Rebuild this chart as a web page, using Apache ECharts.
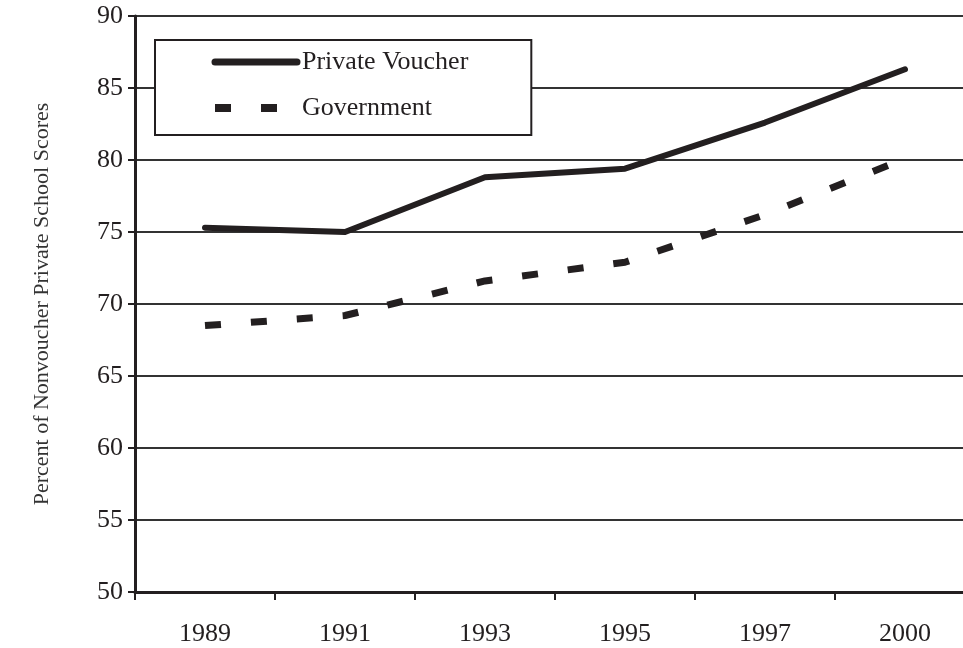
<!DOCTYPE html>
<html>
<head>
<meta charset="utf-8">
<script src="https://cdn.jsdelivr.net/npm/echarts@6/dist/echarts.min.js"></script>
<style>html,body{margin:0;padding:0;background:#fff;}#c{width:963px;height:648px;}</style>
</head>
<body>
<div id="c"></div>
<script>
const years = ['1989', '1991', '1993', '1995', '1997', '2000'];
const privateVoucher = [75.3, 75.0, 78.8, 79.4, 82.6, 86.3];
const government = [68.5, 69.2, 71.6, 72.9, 76.2, 80.1];
const yTicks = [50, 55, 60, 65, 70, 75, 80, 85, 90];

const ink = '#231f20';
const font = '"Liberation Serif", "DejaVu Serif", serif';
const chart = echarts.init(document.getElementById('c'), null, {renderer: 'canvas'});
chart.setOption({
  backgroundColor: '#fff',
  animation: false,
  textStyle: {fontFamily: font},
  grid: {left: 135, top: 16, right: -12, bottom: 56, outerBoundsMode: 'none', containLabel: false},
  legend: {
    left: 155, top: 40,
    orient: 'vertical',
    backgroundColor: '#fff',
    borderColor: ink, borderWidth: 2,
    padding: [9, 63, 14, 56],
    itemWidth: 82, itemHeight: 14, itemGap: 20,
    itemStyle: {opacity: 0},
    textStyle: {fontFamily: font, fontSize: 26, color: ink},
    z: 10,
    data: [
      {name: 'Private Voucher', lineStyle: {width: 7, cap: 'round'}},
      {name: 'Government', lineStyle: {width: 8, type: [16, 30]}}
    ]
  },
  xAxis: {
    type: 'category', data: years, boundaryGap: true,
    axisLine: {lineStyle: {color: ink, width: 3}},
    axisTick: {show: true, length: 8, lineStyle: {color: ink, width: 2}},
    axisLabel: {fontFamily: font, fontSize: 26, color: ink, margin: 29}
  },
  yAxis: {
    type: 'value', min: yTicks[0], max: yTicks[yTicks.length - 1], interval: 5,
    name: 'Percent of Nonvoucher Private School Scores',
    nameLocation: 'middle', nameGap: 82,
    nameTextStyle: {fontFamily: font, fontSize: 22, color: '#333'},
    axisLine: {show: true, lineStyle: {color: ink, width: 3}},
    axisTick: {show: true, length: 7, lineStyle: {color: ink, width: 2}},
    axisLabel: {fontFamily: font, fontSize: 26, color: ink, margin: 12},
    splitLine: {show: true, lineStyle: {color: '#333', width: 2}}
  },
  series: [
    {
      name: 'Private Voucher', type: 'line', data: privateVoucher,
      symbol: 'none', color: ink,
      lineStyle: {color: ink, width: 6, cap: 'round', join: 'round'}
    },
    {
      name: 'Government', type: 'line', data: government,
      symbol: 'none', color: ink,
      lineStyle: {color: ink, width: 7, type: [16, 30], cap: 'butt'}
    }
  ]
});
</script>
</body>
</html>
